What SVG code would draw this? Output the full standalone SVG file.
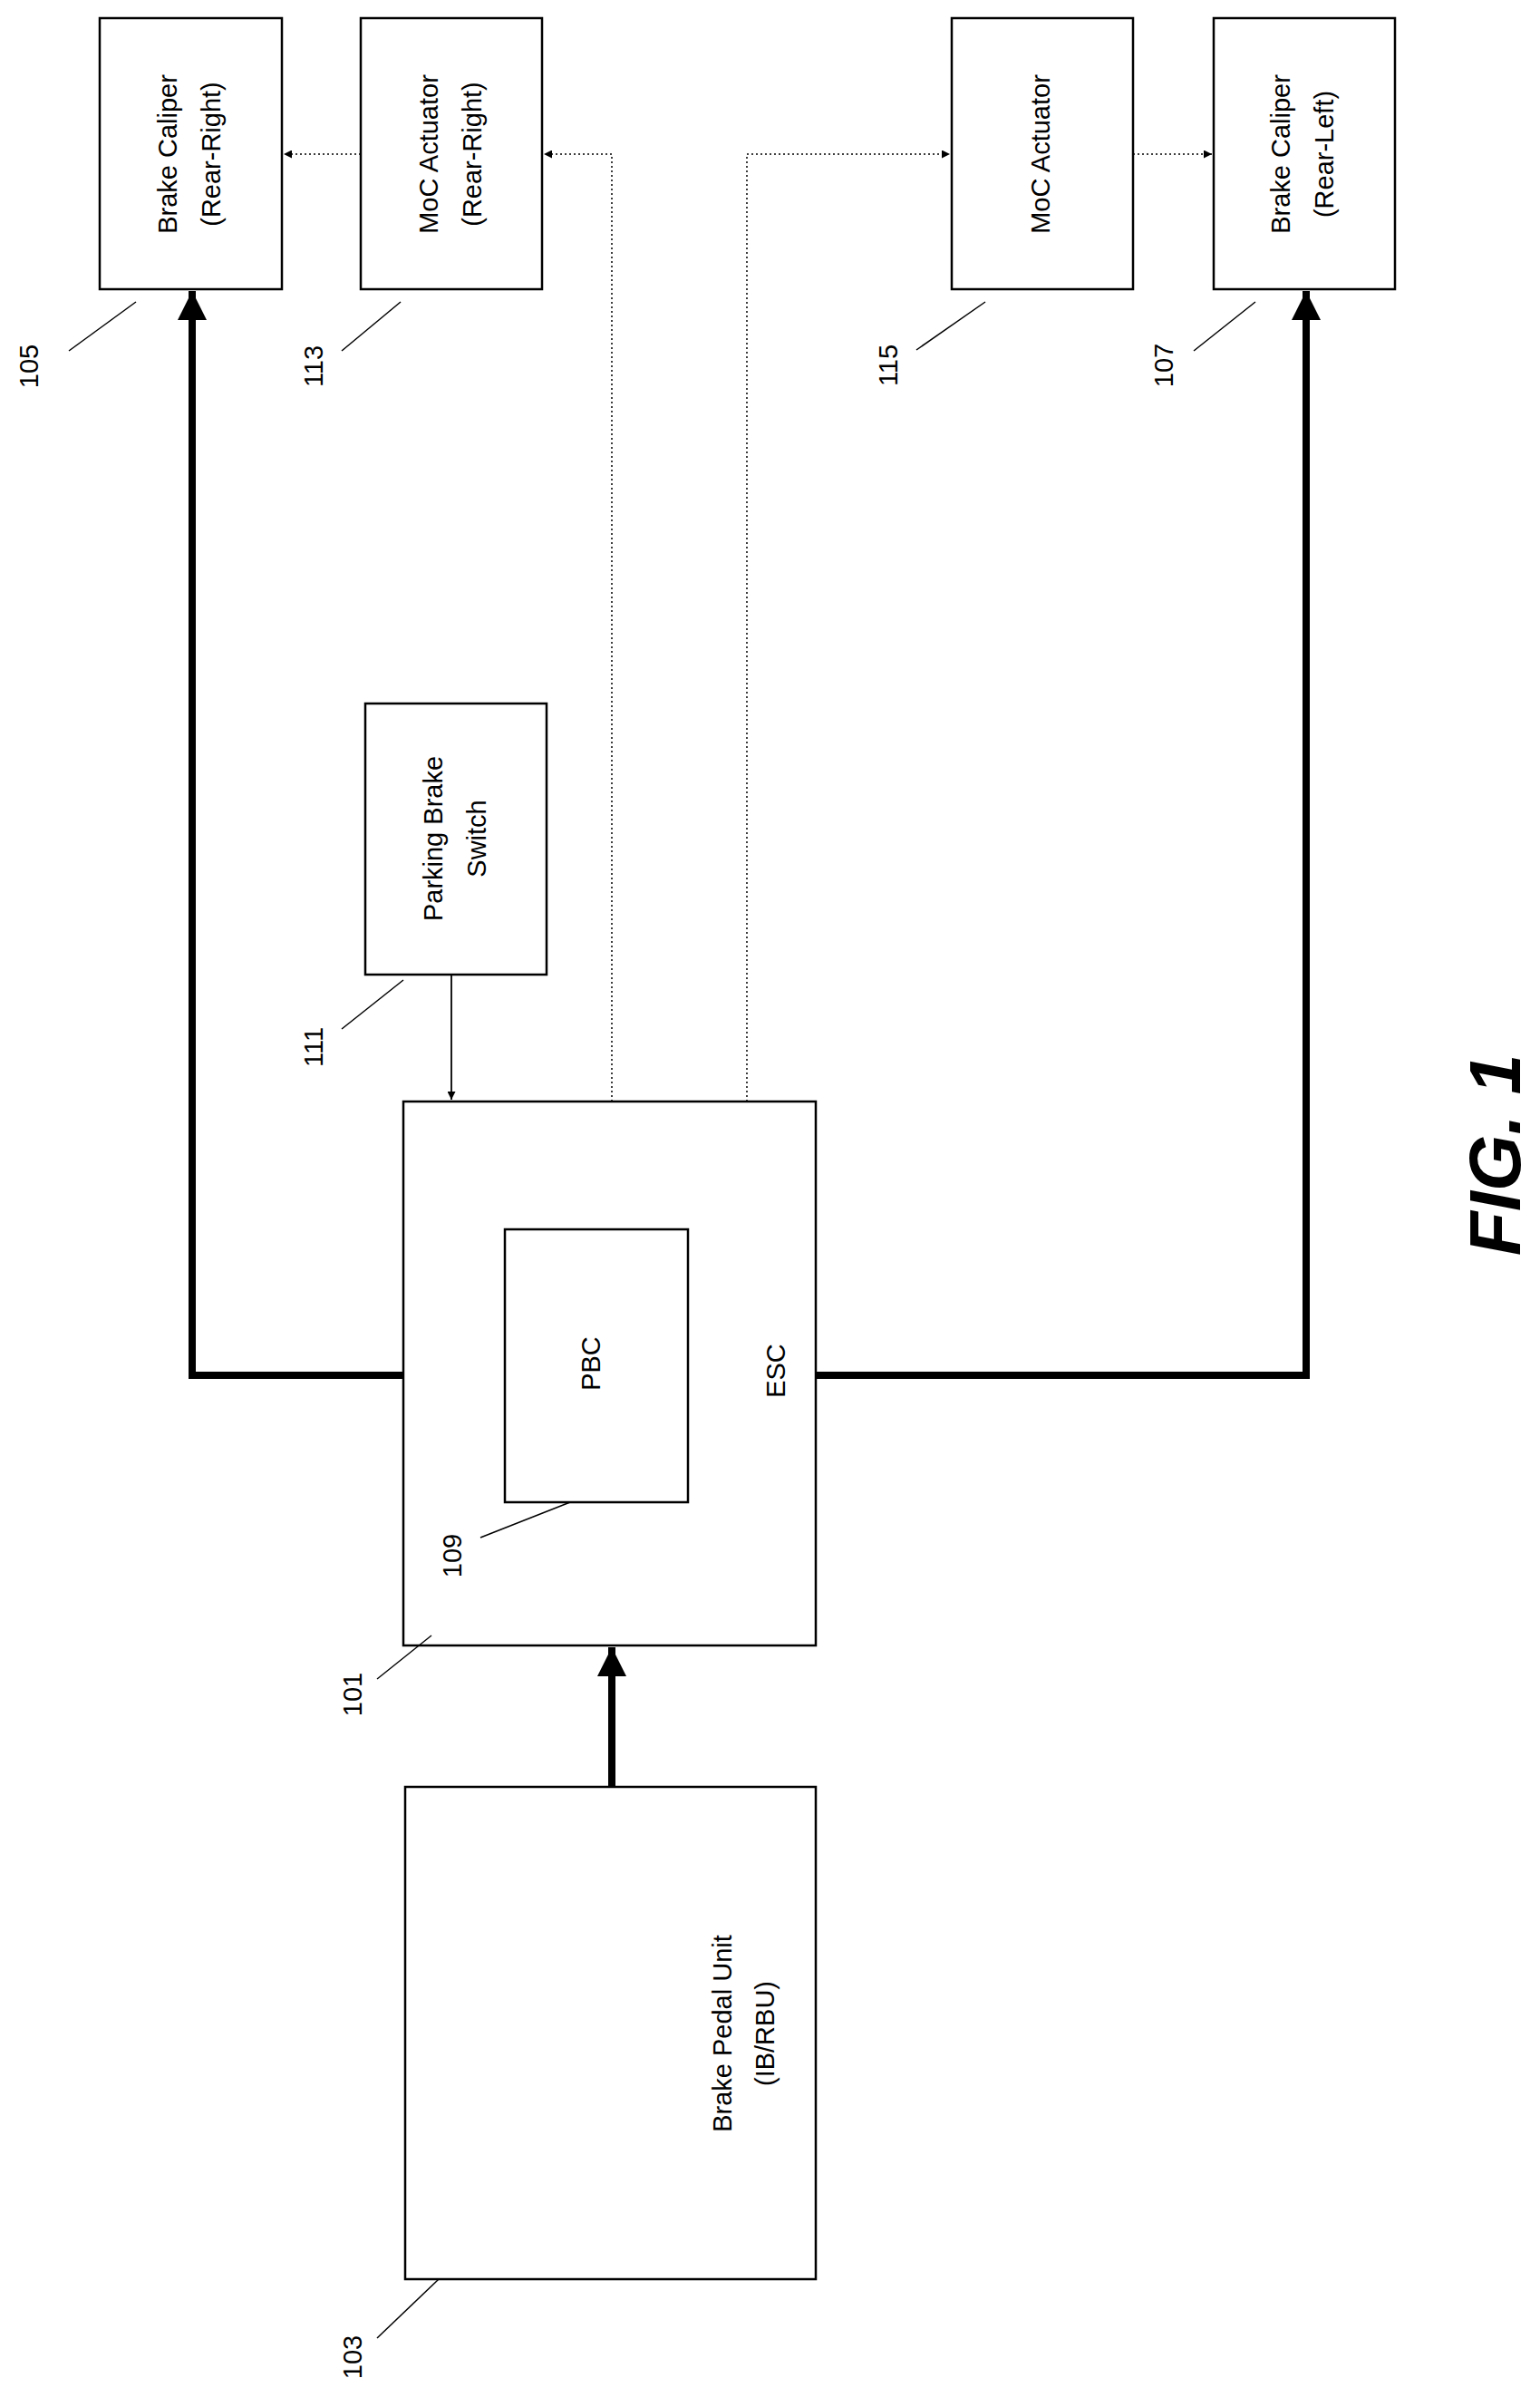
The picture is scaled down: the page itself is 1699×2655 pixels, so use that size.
<svg xmlns="http://www.w3.org/2000/svg" width="1699" height="2655" viewBox="0 0 1699 2655">
<style>
.box{fill:#fff;stroke:#000;stroke-width:2.5}
.t{font-family:"Liberation Sans",Arial,sans-serif;font-size:29px;fill:#000;text-anchor:middle;dominant-baseline:middle}
.thick{fill:none;stroke:#000;stroke-width:8}
.dot{fill:none;stroke:#000;stroke-width:1.5;stroke-dasharray:2 3}
.thin{fill:none;stroke:#000;stroke-width:1.8}
.lead{stroke:#000;stroke-width:1.5}
</style>
<defs>
<marker id="big" viewBox="0 0 10 10" refX="10" refY="5" markerWidth="4" markerHeight="4" markerUnits="strokeWidth" orient="auto"><path d="M0,0L10,5L0,10z"/></marker>
<marker id="sm" viewBox="0 0 10 10" refX="10" refY="5" markerWidth="9" markerHeight="9" markerUnits="userSpaceOnUse" orient="auto"><path d="M0,0L10,5L0,10z"/></marker>
</defs>
<rect width="1699" height="2655" fill="#fff"/>
<g id="connectors">
<polyline class="thick" points="447,1517 212,1517 212,321" marker-end="url(#big)"/>
<polyline class="thick" points="900,1517 1441,1517 1441,321" marker-end="url(#big)"/>
<line class="thick" x1="675" y1="1971" x2="675" y2="1817" marker-end="url(#big)"/>
<polyline class="dot" points="675,1215 675,170 600,170" marker-end="url(#sm)"/>
<polyline class="dot" points="824,1215 824,170 1048,170" marker-end="url(#sm)"/>
<line class="dot" x1="398" y1="170" x2="313" y2="170" marker-end="url(#sm)"/>
<line class="dot" x1="1250" y1="170" x2="1337" y2="170" marker-end="url(#sm)"/>
<line class="thin" x1="498" y1="1075" x2="498" y2="1213" marker-end="url(#sm)"/>
</g>
<g id="n105"><rect class="box" x="110" y="20" width="201" height="299"/>
<text class="t" transform="translate(187,170) rotate(-90)">Brake Caliper</text><text class="t" transform="translate(235,170) rotate(-90)">(Rear-Right)</text>
<text class="t" transform="translate(34,404) rotate(-90)">105</text><line class="lead" x1="76" y1="387" x2="150" y2="333"/></g>
<g id="n113"><rect class="box" x="398" y="20" width="200" height="299"/>
<text class="t" transform="translate(475,170) rotate(-90)">MoC Actuator</text><text class="t" transform="translate(523,170) rotate(-90)">(Rear-Right)</text>
<text class="t" transform="translate(348,404) rotate(-90)">113</text><line class="lead" x1="377" y1="387" x2="442" y2="333"/></g>
<g id="n115"><rect class="box" x="1050" y="20" width="200" height="299"/>
<text class="t" transform="translate(1150,170) rotate(-90)">MoC Actuator</text>
<text class="t" transform="translate(982,403) rotate(-90)">115</text><line class="lead" x1="1011" y1="386" x2="1087" y2="333"/></g>
<g id="n107"><rect class="box" x="1339" y="20" width="200" height="299"/>
<text class="t" transform="translate(1415,170) rotate(-90)">Brake Caliper</text><text class="t" transform="translate(1463,170) rotate(-90)">(Rear-Left)</text>
<text class="t" transform="translate(1286,403) rotate(-90)">107</text><line class="lead" x1="1317" y1="387" x2="1385" y2="333"/></g>
<g id="n111"><rect class="box" x="403" y="776" width="200" height="299"/>
<text class="t" transform="translate(480,925) rotate(-90)">Parking Brake</text><text class="t" transform="translate(528,925) rotate(-90)">Switch</text>
<text class="t" transform="translate(348,1155) rotate(-90)">111</text><line class="lead" x1="377" y1="1135" x2="445" y2="1081"/></g>
<g id="n101"><rect class="box" x="445" y="1215" width="455" height="600"/>
<text class="t" transform="translate(858,1512) rotate(-90)">ESC</text>
<text class="t" transform="translate(391,1869) rotate(-90)">101</text><line class="lead" x1="416" y1="1852" x2="476" y2="1804"/></g>
<g id="n109"><rect class="box" x="557" y="1356" width="202" height="301"/>
<text class="t" transform="translate(654,1504) rotate(-90)">PBC</text>
<text class="t" transform="translate(501,1716) rotate(-90)">109</text><line class="lead" x1="530" y1="1696" x2="629" y2="1657"/></g>
<g id="n103"><rect class="box" x="447" y="1971" width="453" height="543"/>
<text class="t" transform="translate(799,2243) rotate(-90)">Brake Pedal Unit</text><text class="t" transform="translate(846,2243) rotate(-90)">(IB/RBU)</text>
<text class="t" transform="translate(391,2600) rotate(-90)">103</text><line class="lead" x1="416" y1="2579" x2="484" y2="2514"/></g>
<text transform="translate(1656,1274) rotate(-90)" style="font-family:'Liberation Sans',Arial,sans-serif;font-size:80px;font-weight:bold;font-style:italic" text-anchor="middle" dominant-baseline="middle">FIG. 1</text>
</svg>
